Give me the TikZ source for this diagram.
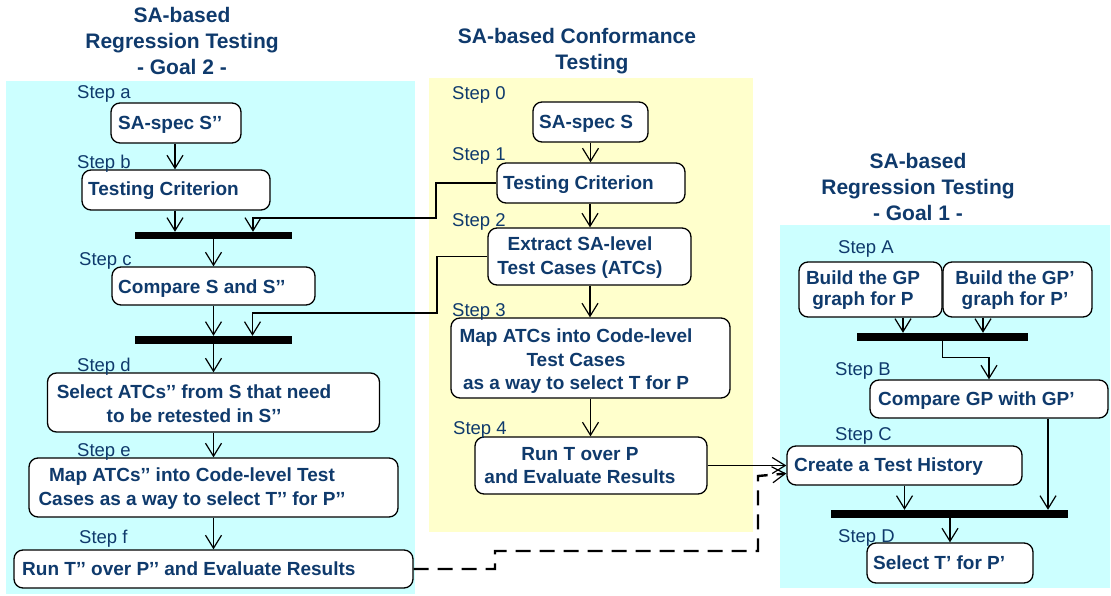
\documentclass[tikz,border=0pt]{standalone}
\usepackage{fontspec}
\setmainfont{Liberation Sans}
\usetikzlibrary{arrows.meta}
\definecolor{navy}{HTML}{0F3A6C}
\definecolor{paleCyan}{HTML}{CCFFFF}
\definecolor{paleYellow}{HTML}{FFFFCC}
\begin{document}
\begin{tikzpicture}[x=1pt,y=-1pt,
  box/.style={draw=black, line width=1.3pt, fill=white, rounded corners=9pt, inner sep=0pt},
  bar/.style={fill=black, draw=none, inner sep=0pt},
  vtip/.tip={Straight Barb[length=13pt,width=16pt,line width=1.2pt]},
  arr/.style={line width=1.1pt, -vtip},
  dasharr/.style={line width=2.4pt, dash pattern=on 15pt off 9pt, -vtip},
  boxtext/.style={font=\fontsize{19}{23.5}\selectfont\bfseries, text=navy, inner sep=0pt},
  gptext/.style={font=\fontsize{19}{21}\selectfont\bfseries, text=navy, inner sep=0pt, align=center, anchor=north},
  multitext/.style={boxtext, align=center, anchor=north},
  linetext/.style={boxtext, anchor=base west},
  steplabel/.style={font=\fontsize{18.5}{22}\selectfont, text=navy, inner sep=0pt, anchor=base west},
  title/.style={font=\fontsize{21}{26}\selectfont\bfseries, text=navy, align=center, inner sep=0pt, anchor=north}]

\useasboundingbox (0,0) rectangle (1111,596);

% swimlane backgrounds
\fill[paleCyan] (6,81) rectangle (415,594);
\fill[paleYellow] (429,78) rectangle (753,532);
\fill[paleCyan] (780,225) rectangle (1110,588);

% lane titles
\node[title] (tLeft) at (182,7) {SA-based\\Regression Testing\\- Goal 2 -};
\node[title] (tMid) at (577,28) {SA-based Conformance\\\hspace*{30pt}Testing};
\node[title] (tRight) at (918,153) {SA-based\\Regression Testing\\- Goal 1 -};

% ---- left lane: regression testing, goal 2 ----
\node[box, minimum width=130pt, minimum height=40pt] (bSa) at (176,123) {};
\node[box, minimum width=188pt, minimum height=40pt] (bTCb) at (176,190) {};
\node[bar, minimum width=157pt, minimum height=7pt] (bar1) at (213.5,235.5) {};
\node[box, minimum width=203pt, minimum height=38pt] (bCmp) at (213.5,286) {};
\node[bar, minimum width=157pt, minimum height=8pt] (bar2) at (213.5,340) {};
\node[box, minimum width=332pt, minimum height=59pt] (bSel) at (213.5,402.5) {};
\node[box, minimum width=369pt, minimum height=59pt] (bMap2) at (213.5,487.5) {};
\node[box, minimum width=399pt, minimum height=38pt] (bRun2) at (213.5,569) {};

\node[linetext] (xSa) at (118,130) {SA-spec S’’};
\node[linetext] (xTCb) at (88,196) {Testing Criterion};
\node[linetext] (xCmp) at (118,293) {Compare S and S’’};
\node[multitext] (xSel) at (194,385) {Select ATCs’’ from S that need\\to be retested in S’’};
\node[multitext] (xMap2) at (192,468) {Map ATCs’’ into Code-level Test\\Cases as a way to select T’’ for P’’};
\node[linetext] (xRun2) at (22,575) {Run T’’ over P’’ and Evaluate Results};

\node[steplabel] (sa) at (77,98.5) {Step a};
\node[steplabel] (sb) at (77,168.5) {Step b};
\node[steplabel] (sc) at (79,265.5) {Step c};
\node[steplabel] (sd) at (77,371.5) {Step d};
\node[steplabel] (se) at (77,456.5) {Step e};
\node[steplabel] (sf) at (79,543.5) {Step f};

% ---- middle lane: conformance testing ----
\node[box, minimum width=115pt, minimum height=40pt] (bSS) at (590.5,122) {};
\node[box, minimum width=188pt, minimum height=40pt] (bTC1) at (591,183) {};
\node[box, minimum width=203pt, minimum height=57pt] (bExt) at (589.5,256.5) {};
\node[box, minimum width=279pt, minimum height=80pt] (bMap) at (590.5,358) {};
\node[box, minimum width=232pt, minimum height=57pt] (bRun) at (591,465.5) {};

\node[linetext] (xSS) at (539,129) {SA-spec S};
\node[linetext] (xTC1) at (503,189.5) {Testing Criterion};
\node[multitext] (xExt) at (580,237) {Extract SA-level\\Test Cases (ATCs)};
\node[multitext] (xMap) at (576,329) {Map ATCs into Code-level\\Test Cases\\as a way to select T for P};
\node[multitext] (xRun) at (580,447) {Run T over P\\and Evaluate Results};

\node[steplabel] (s0) at (452,99.5) {Step 0};
\node[steplabel] (s1) at (452,160.5) {Step 1};
\node[steplabel] (s2) at (452,226.5) {Step 2};
\node[steplabel] (s3) at (452,316.5) {Step 3};
\node[steplabel] (s4) at (453,434.5) {Step 4};

% ---- right lane: regression testing, goal 1 ----
\node[box, minimum width=143pt, minimum height=55pt] (bGP) at (870.5,289.5) {};
\node[box, minimum width=149pt, minimum height=55pt] (bGP2) at (1017.5,289.5) {};
\node[bar, minimum width=171pt, minimum height=8pt] (bar3) at (942.5,337) {};
\node[box, minimum width=238pt, minimum height=38pt] (bCGP) at (989,399) {};
\node[box, minimum width=235pt, minimum height=39pt] (bCTH) at (904.5,465.5) {};
\node[bar, minimum width=237pt, minimum height=8pt] (bar4) at (949.5,514) {};
\node[box, minimum width=166pt, minimum height=40pt] (bST) at (950,563) {};

\node[gptext] (xGP) at (863,271) {Build the GP\\graph for P};
\node[gptext] (xGP2) at (1015,271) {Build the GP’\\graph for P’};
\node[linetext] (xCGP) at (878,405.5) {Compare GP with GP’};
\node[linetext] (xCTH) at (794,471) {Create a Test History};
\node[linetext] (xST) at (873,569) {Select T' for P'};

\node[steplabel] (sA) at (838,253.5) {Step A};
\node[steplabel] (sB) at (835,375.5) {Step B};
\node[steplabel] (sC) at (835,440.5) {Step C};
\node[steplabel] (sD) at (838,542.5) {Step D};

% ---- connectors: left lane ----
\draw[arr] ([xshift=-1pt]bSa.south) -- ([xshift=-1pt]bSa.south |- bTCb.north);
\draw[arr] ([xshift=-1pt]bTCb.south) -- ([xshift=-1pt]bTCb.south |- bar1.north);
\draw[arr] (bar1.south) -- (bar1.south |- bCmp.north);
\draw[arr] (bCmp.south) -- (bCmp.south |- bar2.north);
\draw[arr] (bar2.south) -- (bar2.south |- bSel.north);
\draw[arr] (bSel.south) -- (bSel.south |- bMap2.north);
\draw[arr] (bMap2.south) -- (bMap2.south |- bRun2.north);

% ---- connectors: middle lane ----
\draw[arr] (bSS.south) -- (bSS.south |- bTC1.north);
\draw[arr] ([xshift=-1pt]bTC1.south) -- ([xshift=-1pt]bTC1.south |- bExt.north);
\draw[arr] ([xshift=0.5pt]bExt.south) -- ([xshift=0.5pt]bExt.south |- bMap.north);
\draw[arr] (bMap.south) -- (bMap.south |- bRun.north);

% ---- connectors across lanes ----
\draw[arr] (bTC1.west) -| (436,218) -| ([xshift=39.5pt]bar1.north);
\draw[arr] (bExt.west) -| (437,313) -| ([xshift=39pt]bar2.north);
\draw[arr] (bRun.east) -- (bRun.east -| bCTH.west);
\draw[dasharr] (bRun2.east) -| (495,551) -| (758,476) -- ([yshift=-8pt]bCTH.west);

% ---- connectors: right lane ----
\draw[arr] ([xshift=32.5pt]bGP.south) -- ([xshift=32.5pt]bGP.south |- bar3.north);
\draw[arr] ([xshift=-34.5pt]bGP2.south) -- ([xshift=-34.5pt]bGP2.south |- bar3.north);
\draw[arr] (bar3.south) -- ++(0,16) -| (bCGP.north);
\draw[arr] (bCTH.south) -- (bCTH.south |- bar4.north);
\draw[arr] ([xshift=59pt]bCGP.south) -- ([xshift=59pt]bCGP.south |- bar4.north);
\draw[arr] (bST.north |- bar4.south) -- (bST.north);

\end{tikzpicture}
\end{document}
